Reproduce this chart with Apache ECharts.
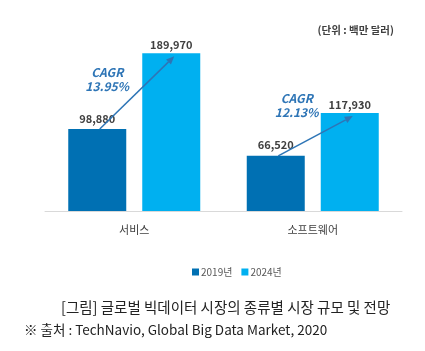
<!DOCTYPE html>
<html>
<head>
<meta charset="utf-8">
<script src="https://cdn.jsdelivr.net/npm/echarts@6/dist/echarts.min.js"></script>
<style>
html,body{margin:0;padding:0;background:#fff;}
#chart{width:425px;height:351px;}
</style>
</head>
<body>
<div id="chart"></div>
<script>
// 데이터
var categories = ['서비스', '소프트웨어'];
var seriesNames = ['2019년', '2024년'];
var values2019 = [98880, 66520];
var values2024 = [189970, 117930];
var cagrLabels = ['13.95%', '12.13%'];

var FONT = '"Noto Sans CJK KR", "Noto Sans", sans-serif';
var BAR_W = 58;
var BAR_GAP = 16;
// CAGR 글자 위치 (2019 막대 중심 기준)
var cagrOffsets = [[10, -49], [21, -50]];

var myChart = echarts.init(document.getElementById('chart'));

function fmt(v) {
	return v.toLocaleString('en-US');
}

function arrowItem(params, api) {
	var i = api.value(0);
	var half = (BAR_W + BAR_GAP) / 2;
	var p1 = api.coord([i, api.value(1)]);
	var p2 = api.coord([i, api.value(2)]);
	var x1 = p1[0] - half + 2.5, y1 = p1[1];
	var x2 = p2[0] + half + 3, y2 = p2[1] + 3;
	var ang = Math.atan2(y2 - y1, x2 - x1);
	var len = 8, wid = 3.5;
	var bx = x2 - len * Math.cos(ang), by = y2 - len * Math.sin(ang);
	var head = [
		[x2, y2],
		[bx + wid * Math.sin(ang), by - wid * Math.cos(ang)],
		[bx - wid * Math.sin(ang), by + wid * Math.cos(ang)]
	];
	var off = cagrOffsets[i];
	var tx = p1[0] - half + off[0], ty = p1[1] + off[1];
	return {
		type: 'group',
		children: [
			{ type: 'line', shape: { x1: x1, y1: y1, x2: bx, y2: by }, style: { stroke: '#2e75b6', lineWidth: 1.5 } },
			{ type: 'polygon', shape: { points: head }, style: { fill: '#2e75b6' } },
			{ type: 'text', x: tx, y: ty, style: { text: 'CAGR\n' + cagrLabels[i], fill: '#2e75b6', font: 'italic bold 12px ' + FONT, align: 'center', verticalAlign: 'middle', lineHeight: 14 } }
		]
	};
}

var option = {
	animation: false,
	textStyle: { fontFamily: FONT },
	title: [
		{ text: '(단위 : 백만 달러)', right: 26, top: 20, textStyle: { fontSize: 10.5, fontWeight: 'bold', color: '#404040', fontFamily: FONT } },
		{ text: '[그림] 글로벌 빅데이터 시장의 종류별 시장 규모 및 전망', left: 56, top: 295, textStyle: { fontSize: 14.5, fontWeight: 'normal', color: '#222', fontFamily: FONT } },
		{ text: '※ 출처 : TechNavio, Global Big Data Market, 2020', left: 19, top: 318, textStyle: { fontSize: 13.5, fontWeight: 'normal', color: '#222', fontFamily: FONT } }
	],
	legend: {
		data: seriesNames,
		left: 187,
		top: 262,
		itemWidth: 7,
		itemHeight: 7,
		itemGap: 9,
		icon: 'rect',
		textStyle: { fontSize: 10, color: '#595959', padding: [0, 0, 0, -3] }
	},
	grid: { left: 45, right: 23, top: 45, bottom: 140 },
	xAxis: {
		type: 'category',
		data: categories,
		axisLine: { lineStyle: { color: '#d9d9d9', width: 1 } },
		axisTick: { show: false },
		axisLabel: { color: '#404040', fontSize: 11, margin: 13 }
	},
	yAxis: {
		type: 'value',
		min: 0,
		max: 200000,
		show: false
	},
	series: [
		{
			name: seriesNames[0],
			type: 'bar',
			data: values2019,
			barWidth: BAR_W,
			barGap: (BAR_GAP / BAR_W * 100) + '%',
			itemStyle: { color: '#0070b3' },
			label: { show: true, position: 'top', distance: 5, formatter: function (p) { return fmt(p.value); }, fontSize: 11, fontWeight: 'bold', color: '#404040' }
		},
		{
			name: seriesNames[1],
			type: 'bar',
			data: values2024,
			barWidth: BAR_W,
			itemStyle: { color: '#00b0f0' },
			label: { show: true, position: 'top', distance: 3, formatter: function (p) { return fmt(p.value); }, fontSize: 11, fontWeight: 'bold', color: '#404040' }
		},
		{
			type: 'custom',
			renderItem: arrowItem,
			data: categories.map(function (c, i) { return [i, values2019[i], values2024[i]]; }),
			z: 5,
			silent: true
		}
	]
};
myChart.setOption(option);
</script>
</body>
</html>
